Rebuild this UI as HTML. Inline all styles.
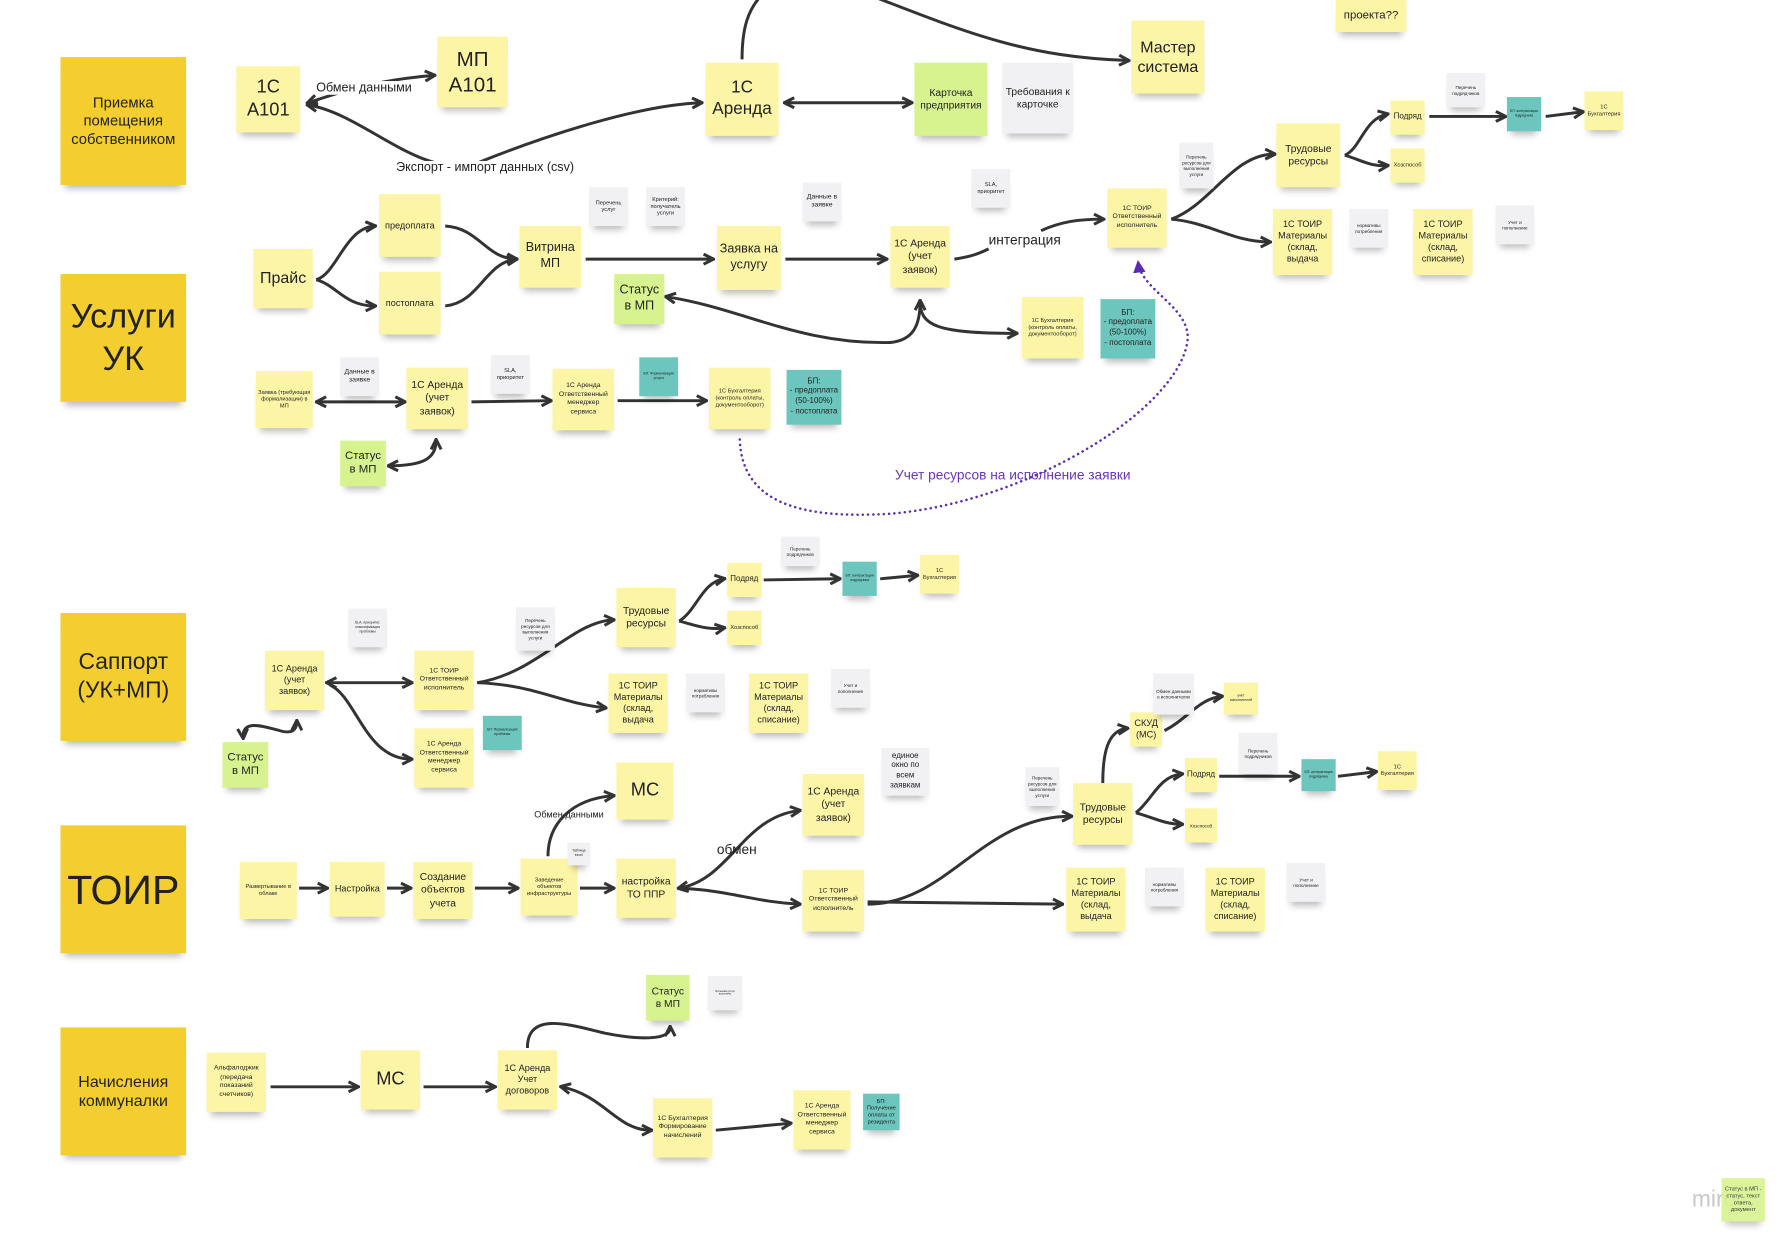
<!DOCTYPE html>
<html><head><meta charset="utf-8">
<style>
html,body{margin:0;padding:0;background:#fff;width:1790px;height:1256px;overflow:hidden}
#w{position:absolute;left:0;top:0;width:1568px;height:1100px;transform:scale(1.1416);transform-origin:0 0;font-family:"Liberation Sans Narrow","Liberation Sans",sans-serif;color:#222}
.s{position:absolute;display:flex;align-items:center;justify-content:center;text-align:center;line-height:1.25;box-shadow:0 7px 6px -4px rgba(0,0,0,.28);background:#fdf5a6;box-sizing:border-box;padding:2px;overflow:hidden}
.b{background:#f4ce2e}
.g{background:#d7f38f}
.gr{background:#f1f1f3}
.t{background:#6cc6bd}
.l{position:absolute;white-space:nowrap;font-size:11px;background:#fff}
svg{position:absolute;left:0;top:0}
</style></head><body><div id="w">
<svg width="1568" height="1100" viewBox="0 0 1568 1100">
<defs>
<marker id="a" viewBox="0 0 10 10" refX="8" refY="5" markerWidth="11" markerHeight="11" markerUnits="userSpaceOnUse" orient="auto-start-reverse"><path d="M1,1 L9,5 L1,9" fill="none" stroke="#333" stroke-width="2.4"/></marker>
<marker id="p" viewBox="0 0 10 10" refX="8" refY="5" markerWidth="11" markerHeight="11" markerUnits="userSpaceOnUse" orient="auto"><path d="M0,0 L10,5 L0,10 z" fill="#5a2db0"/></marker>
</defs>
<g fill="none" stroke="#333" stroke-width="2.6">
<path d="M270,90 C300,80 330,70 380,66" marker-start="url(#a)" marker-end="url(#a)"/>
<path d="M270,92 C320,100 370,160 420,142 C480,118 560,92 614,90" marker-start="url(#a)" marker-end="url(#a)"/>
<path d="M688,90 L798,90" marker-start="url(#a)" marker-end="url(#a)"/>
<path d="M650,52 C650,25 655,8 668,-5"/>
<path d="M760,-5 C850,30 900,50 988,53" marker-end="url(#a)"/>
<path d="M277,245 C295,240 302,200 328,198" marker-end="url(#a)"/>
<path d="M277,245 C295,250 302,268 328,268" marker-end="url(#a)"/>
<path d="M390,198 C420,200 425,226 452,227" marker-end="url(#a)"/>
<path d="M390,268 C420,265 425,230 452,227" marker-end="url(#a)"/>
<path d="M513,227 L624,227" marker-end="url(#a)"/>
<path d="M688,227 L776,227" marker-end="url(#a)"/>
<path d="M836,227 C850,225 858,222 866,218"/>
<path d="M912,202 C930,194 945,192 966,192" marker-end="url(#a)"/>
<path d="M584,260 C650,270 700,302 780,300 C800,298 806,285 806,264" marker-start="url(#a)" marker-end="url(#a)"/>
<path d="M806,264 C806,285 820,292 890,292" marker-end="url(#a)"/>
<path d="M1026,192 C1060,180 1080,135 1116,135" marker-end="url(#a)"/>
<path d="M1026,192 C1060,195 1080,212 1112,212" marker-end="url(#a)"/>
<path d="M1178,136 C1192,130 1195,104 1215,100" marker-end="url(#a)"/>
<path d="M1178,136 C1192,140 1200,146 1215,145" marker-end="url(#a)"/>
<path d="M1252,102 L1318,102" marker-end="url(#a)"/>
<path d="M1354,102 L1386,98" marker-end="url(#a)"/>
<path d="M278,352 L354,352" marker-start="url(#a)" marker-end="url(#a)"/>
<path d="M413,352 L482,351" marker-end="url(#a)"/>
<path d="M541,351 L618,351" marker-end="url(#a)"/>
<path d="M341,408 C370,408 382,402 382,386" marker-start="url(#a)" marker-end="url(#a)"/>
<path d="M287,598 L360,598" marker-start="url(#a)" marker-end="url(#a)"/>
<path d="M289,600 C312,610 320,665 360,665" marker-end="url(#a)"/>
<path d="M213,646 C212,630 230,636 245,640 C255,643 260,640 260,632" marker-start="url(#a)" marker-end="url(#a)"/>
<path d="M418,598 C470,590 500,545 537,543" marker-end="url(#a)"/>
<path d="M418,598 C470,600 490,616 530,620" marker-end="url(#a)"/>
<path d="M595,544 C610,535 615,510 634,507" marker-end="url(#a)"/>
<path d="M595,544 C610,548 620,552 634,550" marker-end="url(#a)"/>
<path d="M669,508 L735,507" marker-end="url(#a)"/>
<path d="M771,507 L803,504" marker-end="url(#a)"/>
<path d="M262,778 L286,778" marker-end="url(#a)"/>
<path d="M339,778 L359,778" marker-end="url(#a)"/>
<path d="M416,778 L453,778" marker-end="url(#a)"/>
<path d="M508,778 L537,778" marker-end="url(#a)"/>
<path d="M480,750 C480,722 500,700 537,697" marker-end="url(#a)"/>
<path d="M595,778 C640,770 650,716 700,710" marker-start="url(#a)" marker-end="url(#a)"/>
<path d="M595,778 C640,780 660,790 700,792" marker-end="url(#a)"/>
<path d="M760,792 C830,792 860,715 938,715" marker-end="url(#a)"/>
<path d="M760,790 L930,792" marker-end="url(#a)"/>
<path d="M966,686 C966,660 970,640 987,638" marker-end="url(#a)"/>
<path d="M1020,640 C1040,630 1050,612 1070,610" marker-end="url(#a)"/>
<path d="M995,712 C1010,700 1015,680 1035,678" marker-end="url(#a)"/>
<path d="M995,712 C1010,716 1020,722 1035,722" marker-end="url(#a)"/>
<path d="M1068,680 L1137,680" marker-end="url(#a)"/>
<path d="M1172,680 L1205,676" marker-end="url(#a)"/>
<path d="M237,952 L313,952" marker-end="url(#a)"/>
<path d="M371,952 L433,952" marker-end="url(#a)"/>
<path d="M462,918 C462,885 500,898 530,905 C565,912 587,910 587,900" marker-end="url(#a)"/>
<path d="M492,952 C530,960 540,990 570,990" marker-start="url(#a)" marker-end="url(#a)"/>
<path d="M627,990 L692,984" marker-end="url(#a)"/>
</g>
<path d="M648,385 C650,440 700,455 780,450 C900,440 1030,360 1040,300 C1045,270 1000,255 997,230" fill="none" stroke="#5a2db0" stroke-width="2.2" stroke-dasharray="0.1,4.5" stroke-linecap="round" marker-end="url(#p)"/>
</svg>

<div class="s b" style="left:53px;top:50px;width:110px;height:112px;font-size:13px">Приемка помещения собственником</div>
<div class="s b" style="left:53px;top:240px;width:110px;height:112px;font-size:30px">Услуги УК</div>
<div class="s b" style="left:53px;top:537px;width:110px;height:112px;font-size:20px">Саппорт (УК+МП)</div>
<div class="s b" style="left:53px;top:723px;width:110px;height:112px;font-size:36px">ТОИР</div>
<div class="s b" style="left:53px;top:900px;width:110px;height:112px;font-size:14px">Начисления коммуналки</div>

<div class="s" style="left:207px;top:58px;width:56px;height:58px;font-size:16px">1С А101</div>
<div class="s" style="left:383px;top:32px;width:62px;height:62px;font-size:18px">МП А101</div>
<div class="s" style="left:618px;top:55px;width:64px;height:64px;font-size:15px">1С Аренда</div>
<div class="s" style="left:991px;top:18px;width:64px;height:64px;font-size:14px">Мастер система</div>
<div class="s" style="left:1170px;top:0;width:62px;height:28px;font-size:10px">проекта??</div>
<div class="s g" style="left:801px;top:55px;width:64px;height:64px;font-size:9px">Карточка предприятия</div>
<div class="s gr" style="left:878px;top:55px;width:62px;height:62px;font-size:9px">Требования к карточке</div>
<div class="l" style="left:277px;top:71px">Обмен данными</div>
<div class="l" style="left:347px;top:141px">Экспорт - импорт данных (csv)</div>

<div class="s" style="left:222px;top:218px;width:52px;height:52px;font-size:14px">Прайс</div>
<div class="s" style="left:332px;top:170px;width:54px;height:55px;font-size:8px">предоплата</div>
<div class="s" style="left:332px;top:238px;width:54px;height:55px;font-size:8px">постоплата</div>
<div class="s" style="left:455px;top:198px;width:54px;height:54px;font-size:11px">Витрина МП</div>
<div class="s g" style="left:538px;top:240px;width:44px;height:44px;font-size:11px">Статус в МП</div>
<div class="s" style="left:628px;top:198px;width:56px;height:56px;font-size:11px">Заявка на услугу</div>
<div class="s" style="left:780px;top:198px;width:52px;height:54px;font-size:9px">1С Аренда (учет заявок)</div>
<div class="s gr" style="left:516px;top:164px;width:34px;height:34px;font-size:5px">Перечень услуг</div>
<div class="s gr" style="left:566px;top:164px;width:34px;height:34px;font-size:5px">Критерий: получатель услуги</div>
<div class="s gr" style="left:703px;top:160px;width:34px;height:34px;font-size:6px">Данные в заявке</div>
<div class="s gr" style="left:851px;top:148px;width:34px;height:34px;font-size:5px">SLA, приоритет</div>
<div class="l" style="left:866px;top:203px;font-size:12px;background:none">интеграция</div>
<div class="s" style="left:970px;top:165px;width:52px;height:52px;font-size:6px">1С ТОИР Ответственный исполнитель</div>
<div class="s gr" style="left:1033px;top:125px;width:30px;height:40px;font-size:4px">Перечень ресурсов для выполнения услуги</div>
<div class="s" style="left:1118px;top:108px;width:56px;height:56px;font-size:9px">Трудовые ресурсы</div>
<div class="s" style="left:1218px;top:88px;width:30px;height:30px;font-size:7px">Подряд</div>
<div class="s" style="left:1218px;top:130px;width:30px;height:30px;font-size:5px">Хозспособ</div>
<div class="s gr" style="left:1267px;top:64px;width:34px;height:30px;font-size:4px">Перечень подрядчиков</div>
<div class="s t" style="left:1320px;top:85px;width:30px;height:30px;font-size:3px">БП: контрактация подрядчика</div>
<div class="s" style="left:1388px;top:80px;width:34px;height:34px;font-size:5px">1С Бухгалтерия</div>
<div class="s" style="left:1115px;top:183px;width:52px;height:58px;font-size:8px">1С ТОИР Материалы (склад, выдача</div>
<div class="s gr" style="left:1182px;top:183px;width:34px;height:34px;font-size:4px">нормативы потребления</div>
<div class="s" style="left:1238px;top:183px;width:52px;height:58px;font-size:8px">1С ТОИР Материалы (склад, списание)</div>
<div class="s gr" style="left:1310px;top:180px;width:34px;height:34px;font-size:4px">Учет и пополнение</div>
<div class="s" style="left:895px;top:260px;width:54px;height:54px;font-size:5px">1С Бухгалтерия (контроль оплаты, документооборот)</div>
<div class="s t" style="left:964px;top:262px;width:48px;height:52px;font-size:7px">БП:<br>- предоплата (50-100%)<br>- постоплата</div>

<div class="s" style="left:224px;top:325px;width:50px;height:50px;font-size:5px">Заявка (требующая формализации) в МП</div>
<div class="s gr" style="left:298px;top:313px;width:34px;height:34px;font-size:6px">Данные в заявке</div>
<div class="s" style="left:356px;top:322px;width:54px;height:54px;font-size:9px">1С Аренда (учет заявок)</div>
<div class="s gr" style="left:430px;top:311px;width:34px;height:34px;font-size:5px">SLA, приоритет</div>
<div class="s" style="left:484px;top:323px;width:54px;height:54px;font-size:6px">1С Аренда Ответственный менеджер сервиса</div>
<div class="s t" style="left:560px;top:313px;width:34px;height:34px;font-size:3px">БП: Формализация услуги</div>
<div class="s" style="left:621px;top:322px;width:54px;height:54px;font-size:5px">1С Бухгалтерия (контроль оплаты, документооборот)</div>
<div class="s t" style="left:689px;top:324px;width:48px;height:48px;font-size:7px">БП:<br>- предоплата (50-100%)<br>- постоплата</div>
<div class="s g" style="left:298px;top:386px;width:40px;height:40px;font-size:10px">Статус в МП</div>
<div class="l" style="left:784px;top:409px;font-size:12px;color:#6a35b5;background:none">Учет ресурсов на исполнение заявки</div>

<div class="s gr" style="left:305px;top:533px;width:34px;height:34px;font-size:3px">SLA, приоритет, классификация проблемы</div>
<div class="s" style="left:232px;top:570px;width:52px;height:52px;font-size:8px">1С Аренда (учет заявок)</div>
<div class="s" style="left:363px;top:570px;width:52px;height:52px;font-size:6px">1С ТОИР Ответственный исполнитель</div>
<div class="s gr" style="left:452px;top:532px;width:34px;height:38px;font-size:4px">Перечень ресурсов для выполнения услуги</div>
<div class="s" style="left:540px;top:515px;width:52px;height:52px;font-size:9px">Трудовые ресурсы</div>
<div class="s" style="left:637px;top:493px;width:30px;height:30px;font-size:7px">Подряд</div>
<div class="s" style="left:637px;top:535px;width:30px;height:30px;font-size:5px">Хозспособ</div>
<div class="s gr" style="left:684px;top:470px;width:34px;height:26px;font-size:4px">Перечень подрядчиков</div>
<div class="s t" style="left:738px;top:492px;width:30px;height:30px;font-size:3px">БП: контрактация подрядчика</div>
<div class="s" style="left:806px;top:486px;width:34px;height:34px;font-size:5px">1С Бухгалтерия</div>
<div class="s" style="left:533px;top:590px;width:52px;height:52px;font-size:8px">1С ТОИР Материалы (склад, выдача</div>
<div class="s gr" style="left:601px;top:590px;width:34px;height:34px;font-size:4px">нормативы потребления</div>
<div class="s" style="left:656px;top:590px;width:52px;height:52px;font-size:8px">1С ТОИР Материалы (склад, списание)</div>
<div class="s gr" style="left:728px;top:586px;width:34px;height:34px;font-size:4px">Учет и пополнение</div>
<div class="s" style="left:363px;top:638px;width:52px;height:52px;font-size:6px">1С Аренда Ответственный менеджер сервиса</div>
<div class="s t" style="left:423px;top:627px;width:34px;height:30px;font-size:3px">БП: Формализация проблемы</div>
<div class="s g" style="left:195px;top:650px;width:40px;height:40px;font-size:10px">Статус в МП</div>

<div class="s" style="left:210px;top:755px;width:50px;height:50px;font-size:5px">Развертывание в облаке</div>
<div class="s" style="left:289px;top:755px;width:48px;height:48px;font-size:8px">Настройка</div>
<div class="s" style="left:362px;top:755px;width:52px;height:50px;font-size:9px">Создание объектов учета</div>
<div class="s" style="left:456px;top:752px;width:50px;height:50px;font-size:5px">Заведение объектов инфраструктуры</div>
<div class="s gr" style="left:497px;top:738px;width:20px;height:20px;font-size:3px">Таблица excel</div>
<div class="s" style="left:540px;top:752px;width:52px;height:52px;font-size:9px">настройка ТО ППР</div>
<div class="s" style="left:540px;top:668px;width:50px;height:50px;font-size:16px">МС</div>
<div class="l" style="left:468px;top:709px;font-size:8px;background:none">Обмен данными</div>
<div class="l" style="left:628px;top:737px;font-size:12px;background:none">обмен</div>
<div class="s" style="left:703px;top:678px;width:54px;height:54px;font-size:9px">1С Аренда (учет заявок)</div>
<div class="s gr" style="left:772px;top:655px;width:42px;height:42px;font-size:7px">единое окно по всем заявкам</div>
<div class="s" style="left:703px;top:762px;width:54px;height:54px;font-size:6px">1С ТОИР Ответственный исполнитель</div>
<div class="s gr" style="left:898px;top:672px;width:30px;height:34px;font-size:4px">Перечень ресурсов для выполнения услуги</div>
<div class="s" style="left:940px;top:686px;width:52px;height:54px;font-size:9px">Трудовые ресурсы</div>
<div class="s" style="left:990px;top:624px;width:28px;height:30px;font-size:8px">СКУД (МС)</div>
<div class="s gr" style="left:1010px;top:590px;width:36px;height:36px;font-size:4px">Обмен данными о исполнителях</div>
<div class="s" style="left:1072px;top:598px;width:30px;height:28px;font-size:3px">учёт исполнителей</div>
<div class="s" style="left:1038px;top:664px;width:28px;height:30px;font-size:7px">Подряд</div>
<div class="s" style="left:1038px;top:708px;width:28px;height:30px;font-size:4px">Хозспособ</div>
<div class="s gr" style="left:1085px;top:642px;width:34px;height:36px;font-size:4px">Перечень подрядчиков</div>
<div class="s t" style="left:1140px;top:665px;width:30px;height:28px;font-size:3px">БП: контрактация подрядчика</div>
<div class="s" style="left:1207px;top:658px;width:34px;height:34px;font-size:5px">1С Бухгалтерия</div>
<div class="s" style="left:934px;top:760px;width:52px;height:56px;font-size:8px">1С ТОИР Материалы (склад, выдача</div>
<div class="s gr" style="left:1003px;top:760px;width:34px;height:34px;font-size:4px">нормативы потребления</div>
<div class="s" style="left:1056px;top:760px;width:52px;height:56px;font-size:8px">1С ТОИР Материалы (склад, списание)</div>
<div class="s gr" style="left:1127px;top:756px;width:34px;height:34px;font-size:4px">Учет и пополнение</div>

<div class="s" style="left:181px;top:922px;width:52px;height:52px;font-size:6px">Альфалоджик (передача показаний счетчиков)</div>
<div class="s" style="left:316px;top:920px;width:52px;height:52px;font-size:16px">МС</div>
<div class="s" style="left:436px;top:920px;width:52px;height:52px;font-size:8px">1С Аренда Учет договоров</div>
<div class="s g" style="left:566px;top:854px;width:38px;height:40px;font-size:9px">Статус в МП</div>
<div class="s gr" style="left:620px;top:855px;width:30px;height:30px;font-size:2px">Постановка услуги выполнена</div>
<div class="s" style="left:572px;top:962px;width:52px;height:52px;font-size:6px">1С Бухгалтерия Формирование начислений</div>
<div class="s" style="left:695px;top:955px;width:50px;height:52px;font-size:6px">1С Аренда Ответственный менеджер сервиса</div>
<div class="s t" style="left:756px;top:958px;width:32px;height:32px;font-size:5px">БП: Получение оплаты от резидента</div>
<div class="l" style="left:1482px;top:1040px;font-size:20px;color:#c8c8c8;background:none">miro</div>
<div class="s g" style="left:1508px;top:1032px;width:38px;height:38px;font-size:5px;opacity:.9">Статус в МП - статус, текст ответа, документ</div>
</div></body></html>
